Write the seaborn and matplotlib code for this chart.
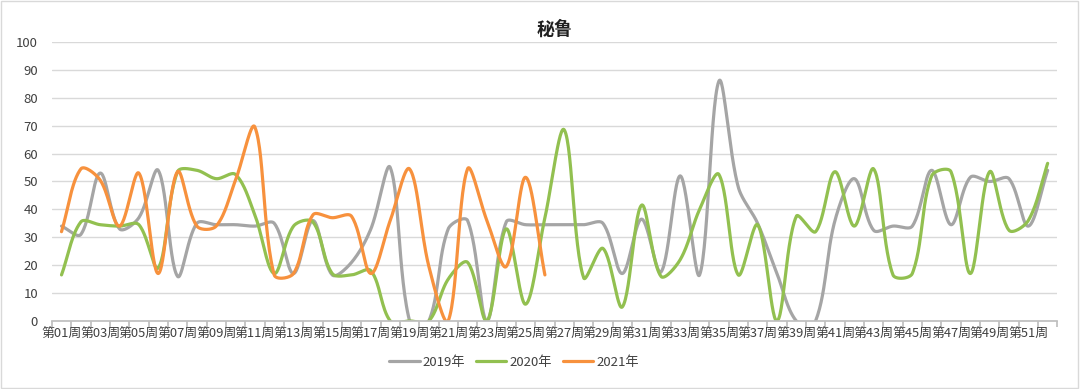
import numpy as np
import pandas as pd
import matplotlib
matplotlib.use("Agg")
import matplotlib.pyplot as plt
import seaborn as sns
from matplotlib.lines import Line2D
from matplotlib.patches import Rectangle

# weekly values
weeks = np.arange(1, 53)
week_labels = ["第%02d周" % w for w in weeks]
series_names = ["2019年", "2020年", "2021年"]

v2019 = [34, 31, 53, 33, 37, 54, 16, 35, 34.5, 34.5, 34, 35, 17, 36, 16.5, 21,
         33, 55, 0, 0, 33, 36, 0, 35.5, 34.5, 34.5, 34.5, 34.5, 35, 17, 36.5, 17.5,
         52, 16.5, 86, 48, 35, 17, 0, 0, 36, 51, 32.5, 34, 34, 54,
         34.5, 51.5, 50, 51, 34, 54]
v2020 = [16.5, 35.5, 34.5, 34, 34.5, 19, 53.5, 54, 51, 52.5, 38, 17, 34, 35.5, 17, 16.5,
         18, 0, 0, 0, 15, 21, 0, 33, 6, 37, 68.5, 15.5, 26, 5, 41.5, 16,
         22, 40, 52.5, 16.5, 34.5, 0, 37.5, 32, 53.5, 34, 54.5, 16.5, 17, 52,
         53.5, 17, 53.5, 32.5, 36, 56.5]
v2021 = [32, 54.5, 50.5, 34, 53, 17, 53.5, 34, 34, 50.5, 69.5, 16.5, 17, 38, 37, 37.5,
         17, 36, 54.5, 19.5, 0, 54.5, 36, 19.5, 51.5, 16.5]

colors = ["#A5A5A5", "#92C050", "#F7913D"]

# screen scale of one week and one unit, used to shape the curve like Excel does
SX, SY = 19.33, 2.79


def smooth(y, n=30):
    # Bezier through the points, control points scaled by chord length
    x = np.arange(1, len(y) + 1, dtype=float) * SX
    y = np.asarray(y, dtype=float) * SY
    P = np.column_stack([x, y])
    m = len(P)
    out = [P[:1]]
    for i in range(m - 1):
        p0 = P[i - 1] if i > 0 else P[i]
        p1, p2 = P[i], P[i + 1]
        p3 = P[i + 2] if i + 2 < m else P[i + 1]
        d01 = np.linalg.norm(p1 - p0)
        d12 = np.linalg.norm(p2 - p1)
        d23 = np.linalg.norm(p3 - p2)
        f1 = d12 / (d01 + d12) / 1.5 if d01 + d12 > 0 else 0
        f2 = d12 / (d12 + d23) / 1.5 if d12 + d23 > 0 else 0
        c1 = p1 + (p2 - p0) * f1 / 2
        c2 = p2 - (p3 - p1) * f2 / 2
        t = np.linspace(0, 1, n)[1:, None]
        b = ((1 - t) ** 3 * p1 + 3 * (1 - t) ** 2 * t * c1
             + 3 * (1 - t) * t ** 2 * c2 + t ** 3 * p2)
        out.append(b)
    c = np.vstack(out)
    return c[:, 0] / SX, c[:, 1] / SY


frames = []
for name, vals in zip(series_names, [v2019, v2020, v2021]):
    sx, sy = smooth(vals)
    frames.append(pd.DataFrame({"week": sx, "value": sy, "year": name}))
df = pd.concat(frames, ignore_index=True)

sns.set_theme(style="white")
plt.rcParams["font.family"] = ["Noto Sans CJK SC", "DejaVu Sans"]

fig = plt.figure(figsize=(10.8, 3.89), dpi=100)
ax = fig.add_axes([0.048, 0.175, 0.931, 0.717])

sns.lineplot(data=df, x="week", y="value", hue="year", palette=colors,
             linewidth=2.3, sort=False, estimator=None, legend=False, ax=ax)

ax.set_xlim(0.5, 52.5)
ax.set_ylim(0, 100)
ax.set_yticks(np.arange(0, 101, 10))
ax.yaxis.grid(True, color="#D9D9D9", linewidth=1)
ax.set_axisbelow(True)

# tick marks between categories, labels on every other week
ax.set_xticks(np.arange(0.5, 53, 1))
ax.set_xticklabels([])
ax.set_xticks(weeks[::2], minor=True)
ax.set_xticklabels(week_labels[::2], minor=True)
ax.tick_params(axis="x", which="major", length=4, color="#BFBFBF", direction="out", bottom=True)
ax.tick_params(axis="x", which="minor", length=0, labelsize=9.3, labelcolor="#404040", pad=5)
ax.tick_params(axis="y", length=0, labelsize=9.5, labelcolor="#404040", pad=10)

for s in ["top", "right", "left"]:
    ax.spines[s].set_visible(False)
ax.spines["bottom"].set_color("#BFBFBF")

ax.set_xlabel("")
ax.set_ylabel("")
ax.set_title("秘鲁", fontsize=13, fontweight="bold", color="#202020", pad=5)

handles = [Line2D([0], [0], color=c, linewidth=2.3) for c in colors]
fig.legend(handles, series_names, loc="center", bbox_to_anchor=(0.476, 0.068), ncol=3,
           frameon=False, fontsize=9.5, handlelength=2.3, columnspacing=0.8, handletextpad=0.25,
           labelcolor="#404040")

fig.patches.append(Rectangle((0.001, 0.003), 0.997, 0.994, transform=fig.transFigure,
                             fill=False, edgecolor="#D9D9D9", linewidth=1))

fig.savefig("out.png", dpi=100)
